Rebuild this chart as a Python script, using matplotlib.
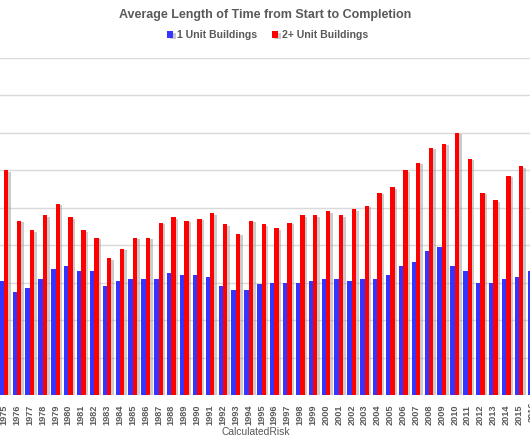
#!/usr/bin/env python3
# _*_ coding=utf-8 _*_

import matplotlib
matplotlib.use("Agg")
import matplotlib.pyplot as plt
import matplotlib.patheffects as pe
import numpy as np

years = list(range(1975, 2017))

# months from start to completion
one_unit = [6.1, 5.5, 5.7, 6.2, 6.7, 6.9, 6.6, 6.6, 5.8, 6.1,
            6.2, 6.2, 6.2, 6.5, 6.4, 6.4, 6.3, 5.8, 5.6, 5.6,
            5.9, 6.0, 6.0, 6.0, 6.1, 6.2, 6.2, 6.1, 6.2, 6.2,
            6.4, 6.9, 7.1, 7.7, 7.9, 6.9, 6.6, 6.0, 6.0, 6.2,
            6.3, 6.6]
two_plus = [12.0, 9.3, 8.8, 9.6, 10.2, 9.5, 8.8, 8.4, 7.3, 7.8,
            8.4, 8.4, 9.2, 9.5, 9.3, 9.4, 9.7, 9.1, 8.6, 9.3,
            9.1, 8.9, 9.2, 9.6, 9.6, 9.8, 9.6, 9.9, 10.1, 10.8,
            11.1, 12.0, 12.4, 13.2, 13.4, 14.0, 12.6, 10.8, 10.4, 11.7,
            12.2, 12.6]

GRAY = "#595959"


def main():
    fig = plt.figure(figsize=(5.3, 4.42), dpi=100)
    ax = fig.add_axes([0.0, 0.1063, 1.0, 0.7636])

    x = np.array(years, dtype=float)
    w = 0.34
    shadow = [pe.SimplePatchShadow(offset=(1.8, -1.2), shadow_rgbFace="#999999",
                                   alpha=0.5), pe.Normal()]
    ax.bar(x - w / 2, one_unit, width=w, color="#3535ff",
           label="1 Unit Buildings", path_effects=shadow, zorder=3)
    ax.bar(x + w / 2, two_plus, width=w, color="#ff0000",
           label="2+ Unit Buildings", path_effects=shadow, zorder=3)

    ax.set_xlim(1974.689, 2015.854)
    ax.set_ylim(0, 18)
    ax.set_yticks(np.arange(0, 19, 2))
    ax.yaxis.grid(True, color="#d9d9d9", linewidth=1.0, zorder=0)
    ax.set_axisbelow(True)
    ax.tick_params(axis="y", length=0, labelleft=False)
    ax.tick_params(axis="x", length=0, pad=7)
    for s in ax.spines.values():
        s.set_visible(False)

    ax.set_xticks(years[:-1])
    ax.set_xticklabels([str(y) for y in years[:-1]], rotation=90,
                       fontsize=6.6, fontweight="bold", color=GRAY,
                       family="Liberation Sans")
    # last label is cut by the right edge, as in the source picture
    ax.text(years[-1], -0.37, str(years[-1]), rotation=90, ha="center",
            va="top", fontsize=6.6, fontweight="bold", color=GRAY,
            family="Liberation Sans", clip_on=False,
            transform=ax.transData)

    fig.text(0.5, 0.967, "Average Length of Time from Start to Completion",
             ha="center", va="center", fontsize=9.0, fontweight="bold",
             color=GRAY, family="Liberation Sans")
    leg = fig.legend(loc="center", bbox_to_anchor=(0.505, 0.921), ncol=2,
                     frameon=False, handlelength=0.6, handleheight=0.6,
                     handletextpad=0.35, columnspacing=1.4,
                     prop={"size": 7.6, "weight": "bold",
                           "family": "Liberation Sans"})
    for t in leg.get_texts():
        t.set_color(GRAY)
    fig.text(0.483, 0.022, "CalculatedRisk", ha="center", va="center",
             fontsize=7.4, color=GRAY, family="Liberation Sans")

    fig.savefig("out.png", dpi=100)


if __name__ == "__main__":
    main()
